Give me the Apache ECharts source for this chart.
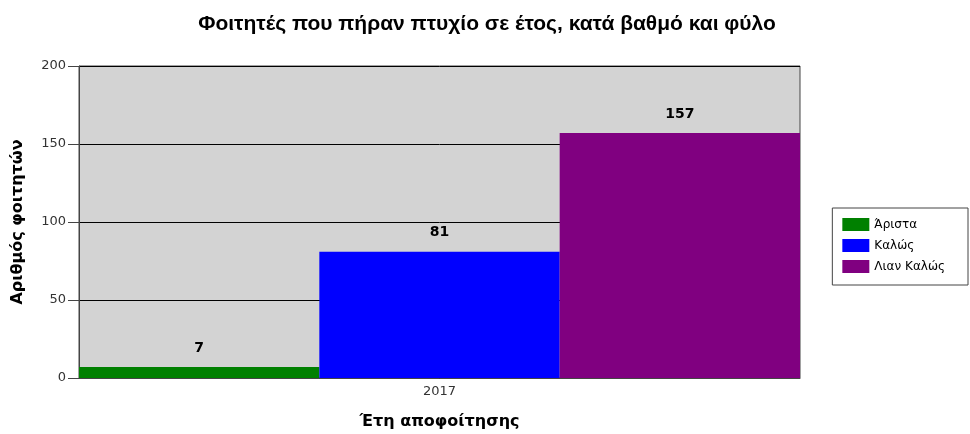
<!DOCTYPE html>
<html>
<head>
<meta charset="utf-8">
<script src="https://cdn.jsdelivr.net/npm/echarts@6/dist/echarts.min.js"></script>
<style>
html, body { margin: 0; padding: 0; background: #fff; }
#chart { width: 970px; height: 434px; }
</style>
</head>
<body>
<div id="chart"></div>
<script>
// δεδομένα
var years = ["2017"];
var grades = ["Άριστα", "Καλώς", "Λιαν Καλώς"];
var aristaValues = [7];
var kalosValues = [81];
var lianKalosValues = [157];
var gradeColors = ["#008000", "#0000ff", "#800080"];

var chart = echarts.init(document.getElementById("chart"));

function barSeries(name, data, color) {
  return {
    name: name,
    type: "bar",
    data: data,
    barGap: "0%",
    barCategoryGap: "0%",
    itemStyle: { color: color },
    label: {
      show: true,
      position: "top",
      distance: 12,
      color: "#000",
      fontWeight: "bold",
      fontSize: 14,
      fontFamily: "DejaVu Sans"
    }
  };
}

chart.setOption({
  animation: false,
  title: {
    text: "Φοιτητές που πήραν πτυχίο σε έτος, κατά βαθμό και φύλο",
    left: 482,
    textAlign: "center",
    top: 9,
    textStyle: { fontFamily: "Liberation Sans", fontWeight: "bold", fontSize: 21, color: "#000" }
  },
  legend: {
    orient: "vertical",
    right: 2,
    top: 208,
    data: grades,
    itemWidth: 27,
    itemHeight: 13,
    itemGap: 8,
    padding: [10, 23, 12, 10],
    borderColor: "#444",
    borderWidth: 1,
    icon: "rect",
    textStyle: { fontFamily: "DejaVu Sans", fontSize: 12, color: "#000" }
  },
  grid: {
    left: 79, right: 170, top: 66, bottom: 56,
    outerBoundsMode: "none",
    containLabel: false,
    show: true,
    backgroundColor: "#d3d3d3",
    borderColor: "#444",
    borderWidth: 1
  },
  xAxis: {
    type: "category",
    data: years,
    name: "Έτη αποφοίτησης",
    nameLocation: "middle",
    nameGap: 36,
    nameTextStyle: { fontFamily: "DejaVu Sans", fontWeight: "bold", fontSize: 16, color: "#000" },
    axisLine: { lineStyle: { color: "#444" } },
    axisTick: { alignWithLabel: true, length: 5, lineStyle: { color: "#444" } },
    axisLabel: { fontFamily: "DejaVu Sans", fontSize: 13, color: "#333", margin: 7 }
  },
  yAxis: {
    type: "value",
    min: 0,
    max: 200,
    interval: 50,
    name: "Αριθμός φοιτητών",
    nameLocation: "middle",
    nameGap: 53,
    nameTextStyle: { fontFamily: "DejaVu Sans", fontWeight: "bold", fontSize: 16, color: "#000" },
    axisLine: { show: true, lineStyle: { color: "#444" } },
    axisTick: { show: true, length: 11, lineStyle: { color: "#444" } },
    axisLabel: { fontFamily: "DejaVu Sans", fontSize: 13, color: "#333", margin: 13 },
    splitLine: { show: true, lineStyle: { color: "#000", width: 1 } }
  },
  series: [
    barSeries(grades[0], aristaValues, gradeColors[0]),
    barSeries(grades[1], kalosValues, gradeColors[1]),
    barSeries(grades[2], lianKalosValues, gradeColors[2])
  ]
});
</script>
</body>
</html>
